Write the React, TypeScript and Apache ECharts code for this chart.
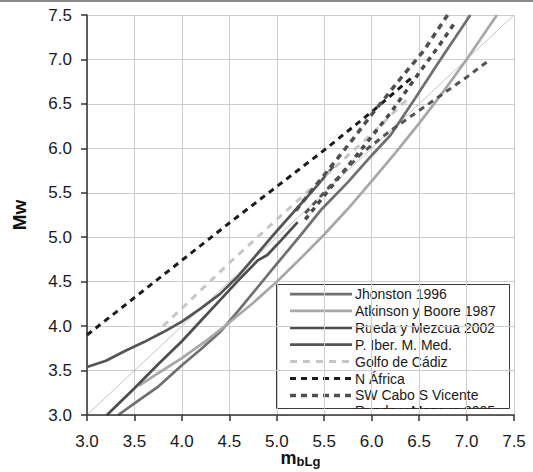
import React, { useEffect, useRef } from "react";
import * as echarts from "echarts";

const X_MIN = 3.0;
const X_MAX = 7.5;
const Y_MIN = 3.0;
const Y_MAX = 7.5;
const TICK_STEP = 0.5;

const ONE_TO_ONE = [[3.0, 3.0], [7.5, 7.5]];
const JHONSTON = [[3.33, 3.0], [3.5, 3.13], [3.74, 3.31], [4.0, 3.56], [4.2, 3.74], [4.4, 3.93], [4.6, 4.18], [4.8, 4.44], [5.0, 4.7], [5.25, 5.02], [5.46, 5.3], [5.75, 5.62], [6.0, 5.92], [6.2, 6.15], [6.45, 6.55], [6.72, 6.99], [7.04, 7.5]];
const ATKINSON = [[3.55, 3.33], [3.75, 3.47], [4.0, 3.64], [4.25, 3.83], [4.5, 4.04], [4.75, 4.26], [5.0, 4.5], [5.25, 4.76], [5.5, 5.03], [5.75, 5.32], [6.0, 5.63], [6.25, 5.95], [6.5, 6.28], [6.75, 6.63], [7.0, 7.0], [7.32, 7.5]];
const RUEDA_2002 = [[3.21, 3.0], [3.5, 3.3], [3.75, 3.57], [4.0, 3.83], [4.2, 4.06], [4.4, 4.29], [4.6, 4.52], [4.8, 4.74], [4.9, 4.8], [5.05, 4.97], [5.22, 5.17]];
const P_IBER = [[3.0, 3.54], [3.2, 3.61], [3.4, 3.72], [3.6, 3.82], [3.8, 3.93], [4.0, 4.05], [4.2, 4.2], [4.4, 4.36], [4.6, 4.57], [4.8, 4.82], [5.0, 5.07], [5.2, 5.31], [5.4, 5.55], [5.6, 5.8]];
const GOLFO = [[3.8, 4.0], [4.0, 4.2], [4.5, 4.71], [5.0, 5.2], [5.5, 5.68], [6.0, 6.16], [6.4, 6.58]];
const N_AFRICA = [[3.0, 3.9], [3.5, 4.32], [4.0, 4.74], [4.5, 5.16], [5.0, 5.57], [5.5, 5.98], [6.0, 6.41], [6.45, 6.82]];
const SW_CABO = [[5.2, 5.3], [5.5, 5.7], [5.8, 6.1], [6.0, 6.38], [6.3, 6.78], [6.55, 7.1], [6.8, 7.5]];
const RUEDA_2005 = [[5.3, 5.2], [5.6, 5.6], [5.9, 6.0], [6.2, 6.4], [6.5, 6.85], [6.7, 7.14], [6.88, 7.42]];
const OTHER = [[5.3, 5.27], [5.6, 5.62], [5.9, 5.95], [6.2, 6.2], [6.6, 6.5], [7.0, 6.8], [7.25, 7.0]];

const SERIES_DEF = [
  { name: "Jhonston 1996", data: JHONSTON, color: "#707070", width: 2.75, dash: null, legend: true },
  { name: "Atkinson y Boore 1987", data: ATKINSON, color: "#a8a8a8", width: 2.75, dash: null, legend: true },
  { name: "Rueda y Mezcua 2002", data: RUEDA_2002, color: "#4e4e4e", width: 2.75, dash: null, legend: true },
  { name: "P. Iber. M. Med.", data: P_IBER, color: "#555555", width: 2.75, dash: null, legend: true },
  { name: "Golfo de Cádiz", data: GOLFO, color: "#c6c6c6", width: 3, dash: [7, 6], legend: true },
  { name: "N África", data: N_AFRICA, color: "#1c1c1c", width: 3, dash: [6, 5], legend: true },
  { name: "SW Cabo S Vicente", data: SW_CABO, color: "#505050", width: 3.5, dash: [6, 5], legend: true },
  { name: "Rueda y Mezcua 2005", data: RUEDA_2005, color: "#4a4a4a", width: 3.5, dash: [5, 5], legend: true },
  { name: "otro", data: OTHER, color: "#555555", width: 3, dash: [6, 5], legend: false },
];

export default function App() {
  const ref = useRef<HTMLDivElement>(null);
  useEffect(() => {
    if (!ref.current) return;
    const chart = echarts.init(ref.current, null, { renderer: "svg" });
    const font = '"Liberation Sans", Arial, sans-serif';

    const series: any[] = [
      {
        type: "line",
        name: "1:1",
        data: ONE_TO_ONE,
        symbol: "none",
        lineStyle: { color: "#c4c4c4", width: 1 },
        z: 1,
      },
      ...SERIES_DEF.map((s, i) => ({
        type: "line",
        name: s.name,
        data: s.data,
        symbol: "none",
        smooth: false,
        lineStyle: { color: s.color, width: s.width, type: s.dash ? s.dash : "solid" },
        z: 2 + i,
      })),
    ];

    const legendLeft = 276;
    const legendTop = 284;
    const legendW = 233;
    const legendH = 124;
    const rowStart = 294;
    const rowStep = 16.9;
    const legendChildren: any[] = [
      {
        type: "rect",
        shape: { x: legendLeft + 0.5, y: legendTop + 0.5, width: legendW, height: legendH },
        style: { fill: "#ffffff", stroke: "#3a3a3a", lineWidth: 1 },
      },
    ];
    SERIES_DEF.filter((s) => s.legend).forEach((s, i) => {
      const cy = i === 7 ? 410.5 : rowStart + i * rowStep;
      legendChildren.push({
        type: "line",
        shape: { x1: 290, y1: cy, x2: 352, y2: cy },
        style: { stroke: s.color, lineWidth: s.width, lineDash: s.dash || null },
      });
      legendChildren.push({
        type: "text",
        x: 355,
        y: cy,
        style: {
          text: s.name,
          fontSize: 14,
          fontFamily: font,
          fill: "#1a1a1a",
          verticalAlign: "middle",
        },
      });
    });
    legendChildren.push({
      type: "rect",
      shape: { x: legendLeft - 2, y: legendTop + legendH + 1, width: legendW + 5, height: 20 },
      style: { fill: "#ffffff" },
    });

    const axisLineStyle = { color: "#333", width: 1.5 };

    chart.setOption({
      animation: false,
      backgroundColor: "#ffffff",
      grid: { left: 87, right: 19, top: 15, bottom: 57, containLabel: false, outerBoundsMode: "none" },
      xAxis: [
        {
          type: "value",
          min: X_MIN,
          max: X_MAX,
          interval: TICK_STEP,
          name: "{m|m}{s|bLg}",
          nameLocation: "middle",
          nameGap: 33,
          nameMoveOverlap: false,
          nameTextStyle: {
            verticalAlign: "top",
            rich: {
              m: { fontSize: 18, fontWeight: "bold", fontFamily: font, color: "#111", lineHeight: 20 },
              s: { fontSize: 13, fontWeight: "bold", fontFamily: font, color: "#111", padding: [6, 0, 0, 0], lineHeight: 16 },
            },
          },
          axisLine: { show: false },
          axisTick: { show: false },
          axisLabel: {
            formatter: (v: number) => v.toFixed(1),
            fontSize: 17,
            fontFamily: font,
            color: "#1a1a1a",
            margin: 18,
          },
          splitLine: { show: true, lineStyle: { color: "#cccccc", width: 1 } },
        },
        {
          type: "value",
          min: X_MIN,
          max: X_MAX,
          interval: TICK_STEP,
          position: "bottom",
          z: 300,
          axisLine: { show: true, onZero: false, lineStyle: axisLineStyle },
          axisTick: { show: true, length: 6, inside: false, lineStyle: axisLineStyle },
          axisLabel: { show: false },
          splitLine: { show: false },
        },
      ],
      yAxis: {
        type: "value",
        min: Y_MIN,
        max: Y_MAX,
        interval: TICK_STEP,
        name: "Mw",
        nameLocation: "middle",
        nameGap: 58,
        nameMoveOverlap: false,
        nameTextStyle: { fontSize: 19, fontWeight: "bold", fontFamily: font, color: "#111" },
        axisLine: { onZero: false, lineStyle: axisLineStyle },
        axisTick: { show: true, length: 6, inside: false, lineStyle: axisLineStyle },
        axisLabel: {
          formatter: (v: number) => v.toFixed(1),
          fontSize: 17,
          fontFamily: font,
          color: "#1a1a1a",
          margin: 15,
        },
        splitLine: { show: true, lineStyle: { color: "#cccccc", width: 1 } },
      },
      series,
      graphic: [
        {
          type: "line",
          shape: { x1: 0, y1: 1, x2: 533, y2: 1 },
          style: { stroke: "#8a8a8a", lineWidth: 2 },
          z: 100,
        },
        { type: "group", children: legendChildren, z: 100 },
      ],
    });
    return () => chart.dispose();
  }, []);
  return (
    <div
      ref={ref}
      style={{ position: "fixed", left: 0, top: 0, width: 533, height: 472, background: "#fff" }}
    />
  );
}
